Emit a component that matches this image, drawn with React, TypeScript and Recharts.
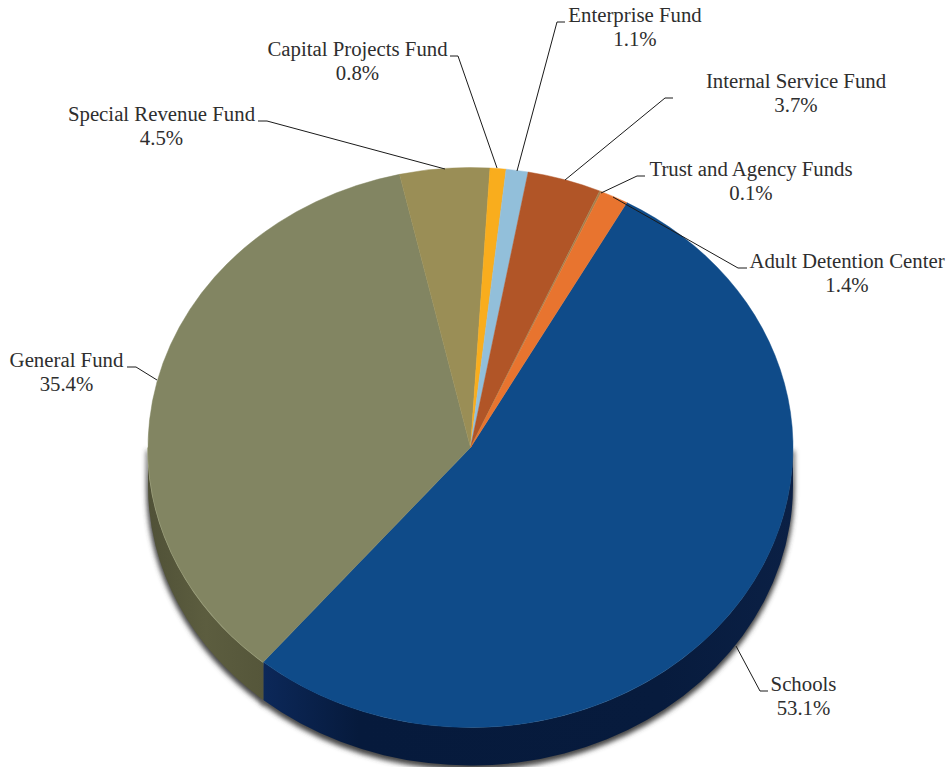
import { PieChart, Pie, Sector } from "recharts";

// slices, clockwise from the top-right edge of Schools
const categories = [
  "Schools",
  "General Fund",
  "Special Revenue Fund",
  "Capital Projects Fund",
  "Enterprise Fund",
  "Internal Service Fund",
  "Trust and Agency Funds",
  "Adult Detention Center",
];
const shares = [53.1, 35.4, 4.5, 0.8, 1.1, 3.7, 0.1, 1.4];

const topColors = ["#0f4b89", "#828562", "#9a8e56", "#f9ad1d", "#92bfda", "#b15527", "#a5804f", "#e8742f"];
const wallColors = ["url(#wallBlue)", "url(#wallOlive)", "#6b6238", "#a8741a", "#5f8095", "#73371a", "#6b5233", "#97491e"];
const edgeColors = ["none", "#a4a785", "none", "none", "none", "none", "none", "none"];

// label centre and baseline of the first line, then the leader line points
const labelSpots = [
  { x: 803.5, y: 691, leader: "736,646 760,691 768,691" },
  { x: 66.5, y: 367, leader: "157,380 136,367 127,367" },
  { x: 161.5, y: 121, leader: "445,169 267,121 258,121" },
  { x: 357.5, y: 56, leader: "497,168 458,56 450,56" },
  { x: 635, y: 22, leader: "517,171 557,22 565,22" },
  { x: 796, y: 88, leader: "565,180 665,98 673,98" },
  { x: 751, y: 176, leader: "601,193 637,176 645,176" },
  { x: 847, y: 268, leader: "613,197 738,268 747,268" },
];

const CX = 470.5;
const CY = 447.5;
const RX = 322.5;
const RY = 280;
const DEPTH = 38;

const rows = categories.map((name, i) => ({ name, value: shares[i], fill: topColors[i] }));
const wallRows = categories.map((name, i) => ({ name, value: shares[i], fill: wallColors[i] }));
const shadowRows = categories.map((name, i) => ({ name, value: shares[i], fill: "#444444" }));

const squash = `translate(0 ${CY}) scale(1 ${RY / RX}) translate(0 ${-CY})`;

function TopFace(props: any) {
  const { cx, cy, outerRadius, startAngle, endAngle, fill } = props;
  return (
    <g transform={squash}>
      <Sector
        cx={cx}
        cy={cy}
        innerRadius={0}
        outerRadius={outerRadius}
        startAngle={startAngle}
        endAngle={endAngle}
        fill={fill}
        stroke={fill}
        strokeWidth={0.5}
      />
    </g>
  );
}

// part of the rim below the ellipse's horizontal axis
function wallPath(startAngle: number, endAngle: number, cx: number, cy: number) {
  const a = Math.min(startAngle, 0);
  const b = Math.max(endAngle, -180);
  if (a <= b) return null;
  const px = (d: number) => cx + RX * Math.cos((d * Math.PI) / 180);
  const py = (d: number) => cy - RY * Math.sin((d * Math.PI) / 180);
  const arc = `M${px(a)},${py(a)} A${RX},${RY} 0 0 1 ${px(b)},${py(b)}`;
  const wall = `${arc} L${px(b)},${py(b) + DEPTH} A${RX},${RY} 0 0 0 ${px(a)},${py(a) + DEPTH} Z`;
  return { arc, wall };
}

function Wall(props: any) {
  const { cx, cy, startAngle, endAngle, fill, index } = props;
  const p = wallPath(startAngle, endAngle, cx, cy);
  if (!p) return null;
  return (
    <g>
      <path d={p.wall} fill={fill} />
      <path d={p.arc} fill="none" stroke={edgeColors[index]} strokeWidth={1.5} />
    </g>
  );
}

function WallShadow(props: any) {
  const { cx, cy, startAngle, endAngle, fill } = props;
  const p = wallPath(startAngle, endAngle, cx, cy);
  if (!p) return null;
  return <path d={p.wall} fill={fill} stroke={fill} strokeWidth={3} filter="url(#soft)" transform="translate(0 3)" />;
}

function FundLabel(props: any) {
  const { index, value, name } = props;
  const spot = labelSpots[index];
  return (
    <g>
      <polyline points={spot.leader} fill="none" stroke="#1a1a1a" strokeWidth={1} />
      <text x={spot.x} y={spot.y} textAnchor="middle" fill="#2e2e2e" fontFamily="Liberation Serif" fontSize={20.8}>
        {name}
      </text>
      <text x={spot.x} y={spot.y + 24} textAnchor="middle" fill="#2e2e2e" fontFamily="Liberation Serif" fontSize={20.8}>
        {value.toFixed(1)}%
      </text>
    </g>
  );
}

export default function App() {
  const pieProps = {
    dataKey: "value",
    nameKey: "name",
    cx: CX,
    cy: CY,
    outerRadius: RX,
    startAngle: 61,
    endAngle: -299,
    stroke: "none",
    isAnimationActive: false,
  };
  return (
    <div style={{ position: "absolute", left: 0, top: 0, width: 946, height: 767, background: "#fff" }}>
      <PieChart width={946} height={767} margin={{ top: 0, right: 0, bottom: 0, left: 0 }}>
        <defs>
          <filter id="soft" x="-10%" y="-10%" width="120%" height="120%">
            <feGaussianBlur stdDeviation="2.5" />
          </filter>
          <linearGradient id="wallBlue" x1="0" y1="0" x2="1" y2="0">
            <stop offset="0" stopColor="#0c2859" />
            <stop offset="0.18" stopColor="#061a3c" />
            <stop offset="0.75" stopColor="#071b3d" />
            <stop offset="1" stopColor="#0b2045" />
          </linearGradient>
          <linearGradient id="wallOlive" x1="0" y1="0" x2="1" y2="0">
            <stop offset="0" stopColor="#505137" />
            <stop offset="0.5" stopColor="#5c5d3f" />
            <stop offset="1" stopColor="#55563a" />
          </linearGradient>
        </defs>
        <Pie {...pieProps} data={shadowRows} shape={WallShadow} />
        <Pie {...pieProps} data={wallRows} shape={Wall} />
        <Pie {...pieProps} data={rows} shape={TopFace} label={FundLabel} labelLine={false} />
      </PieChart>
    </div>
  );
}
